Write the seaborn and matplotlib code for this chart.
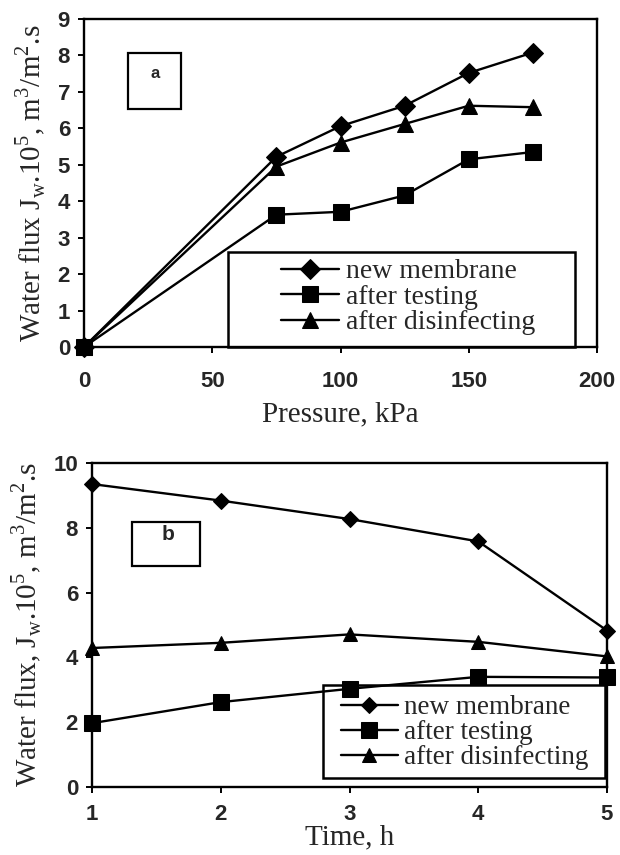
import matplotlib
matplotlib.use('Agg')
import matplotlib.pyplot as plt
import seaborn as sns
from matplotlib.patches import Rectangle

# ---- data ----
pressure_kpa = [0, 75, 100, 125, 150, 175]
new_membrane_a = [0, 5.22, 6.06, 6.62, 7.52, 8.08]
after_testing_a = [0, 3.63, 3.71, 4.16, 5.15, 5.35]
after_disinfecting_a = [0, 4.95, 5.61, 6.12, 6.62, 6.58]

time_h = [1, 2, 3, 4, 5]
new_membrane_b = [9.35, 8.84, 8.27, 7.58, 4.83]
after_testing_b = [1.97, 2.62, 3.03, 3.40, 3.38]
after_disinfecting_b = [4.29, 4.45, 4.71, 4.48, 4.03]

series_names = ['new membrane', 'after testing', 'after disinfecting']
xticks_a = [0, 50, 100, 150, 200]
yticks_a = list(range(0, 10))
xticks_b = [1, 2, 3, 4, 5]
yticks_b = [0, 2, 4, 6, 8, 10]

sns.set_style('ticks')
plt.rcParams['font.family'] = ['Liberation Serif', 'DejaVu Sans']
plt.rcParams['mathtext.fontset'] = 'custom'
plt.rcParams['mathtext.rm'] = 'Liberation Serif'

fig = plt.figure(figsize=(6.2, 8.55), dpi=100)
fig.patch.set_facecolor('white')

marker_styles = ['D', 's', '^']


def draw_panel(ax, x, series, msizes, xticks, yticks, xlim, ylim, xlabel, ylabel,
               box, box_letter, letter_pos, letter_size, leg_frame, leg_center,
               leg_fs, xpad, xlabelpad):
    for vals, m, ms in zip(series, marker_styles, msizes):
        sns.lineplot(x=x, y=vals, ax=ax, color='black', marker=m, markersize=ms,
                     markeredgecolor='black', markerfacecolor='black',
                     linewidth=1.7, clip_on=False, zorder=3)
    ax.set_xlim(*xlim)
    ax.set_ylim(*ylim)
    ax.set_xticks(xticks)
    ax.set_yticks(yticks)
    ax.set_xticklabels([str(t) for t in xticks])
    ax.set_yticklabels([str(t) for t in yticks])
    for s in ax.spines.values():
        s.set_visible(True)
        s.set_linewidth(1.7)
        s.set_color('black')
    ax.tick_params(axis='both', direction='out', length=4, width=1.4, color='black')
    ax.tick_params(axis='x', pad=xpad)
    ax.tick_params(axis='y', pad=6)
    for lbl in ax.get_xticklabels() + ax.get_yticklabels():
        lbl.set_fontfamily('Liberation Sans')
        lbl.set_fontweight('bold')
        lbl.set_fontsize(16)
    ax.set_xlabel(xlabel, fontsize=21, labelpad=xlabelpad)
    ax.set_ylabel(ylabel, fontsize=21, labelpad=7)
    ax.grid(False)

    # letter box
    bx0, by0, bx1, by1 = box
    ax.add_patch(Rectangle((bx0, by0), bx1 - bx0, by1 - by0, transform=ax.transAxes,
                           fill=False, edgecolor='black', linewidth=1.6, clip_on=False))
    ax.text(letter_pos[0], letter_pos[1], box_letter, transform=ax.transAxes,
            ha='center', va='center', fontsize=letter_size, fontweight='bold',
            family='Liberation Sans')

    # legend frame + legend
    lx0, ly0, lx1, ly1 = leg_frame
    ax.add_patch(Rectangle((lx0, ly0), lx1 - lx0, ly1 - ly0, transform=ax.transAxes,
                           facecolor='white', edgecolor='black', linewidth=1.8,
                           clip_on=False, zorder=1.5))
    leg = ax.legend(handles=ax.lines[:3], labels=series_names, loc='center',
                    bbox_to_anchor=leg_center, frameon=False,
                    prop={'family': 'Liberation Serif', 'size': leg_fs},
                    handlelength=2.1, handletextpad=0.25, labelspacing=0.0,
                    borderpad=0)
    leg.set_zorder(5)


# top panel
ax1 = fig.add_axes([84 / 620, 1 - 347 / 855, 513 / 620, 328 / 855])
draw_panel(ax1, pressure_kpa,
           [new_membrane_a, after_testing_a, after_disinfecting_a],
           [10, 12, 12], xticks_a, yticks_a, (0, 200), (0, 9),
           'Pressure, kPa',
           r'Water flux J$_\mathregular{w}$.10$^\mathregular{5}$, m$^\mathregular{3}$/m$^\mathregular{2}$.s',
           (0.086, 0.726, 0.189, 0.896), 'a', (0.138, 0.835), 12,
           (0.281, 0.0, 0.957, 0.29), (0.632, 0.152), 20, 13, 7)

# bottom panel
ax2 = fig.add_axes([92 / 620, 1 - 787 / 855, 515 / 620, 324 / 855])
draw_panel(ax2, time_h,
           [new_membrane_b, after_testing_b, after_disinfecting_b],
           [8, 11, 10], xticks_b, yticks_b, (1, 5), (0, 10),
           'Time, h',
           r'Water flux, J$_\mathregular{w}$.10$^\mathregular{5}$, m$^\mathregular{3}$/m$^\mathregular{2}$.s',
           (0.078, 0.682, 0.21, 0.818), 'b', (0.148, 0.778), 15,
           (0.449, 0.028, 0.996, 0.315), (0.724, 0.167), 19.5, 8, 0)

fig.savefig('out.png', dpi=100, facecolor='white')
